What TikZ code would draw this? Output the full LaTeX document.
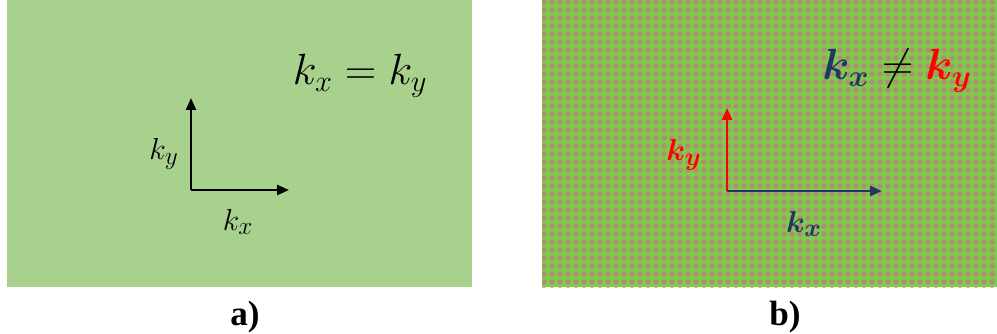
\documentclass[tikz,border=0pt]{standalone}
\usepackage{fontspec}
\usepackage{bm}
\newfontfamily\tagfont{Liberation Serif}
\usetikzlibrary{arrows.meta}
\definecolor{pgreen}{HTML}{A9D18E}
\definecolor{mgreen}{HTML}{7ECD4A}
\definecolor{mbrown}{HTML}{AE8F72}
\definecolor{kblue}{HTML}{1F3864}
\definecolor{kred}{HTML}{FF0000}
\tikzset{
  every picture/.style={x=0.02cm, y=-0.02cm},
  axis/.style={-{Triangle[length=2.4mm, width=2mm]}, draw=#1, line width=1.4pt},
  axis/.default=black,
  eqn/.style={font=\fontsize{23}{27}\selectfont, inner sep=0pt},
  klabel/.style={font=\fontsize{19}{22}\selectfont, inner sep=0pt},
  tag/.style={font=\tagfont\bfseries\fontsize{20}{23}\selectfont, inner sep=0pt},
}

\begin{document}
\begin{tikzpicture}
  \useasboundingbox (0,0) rectangle (997,334);
  % a) plain medium
  \fill[pgreen] (7,0) rectangle (472,287);
  \node[eqn] (eqa) at (360,76) {$k_x = k_y$};
  \coordinate (oa) at (191,190);
  \coordinate (ya) at (191,98);
  \coordinate (xa) at (289,190);
  \draw[axis] (oa) -- (ya);
  \draw[axis] (oa) -- (xa);
  \node[klabel] (kya) at (164,154) {$k_y$};
  \node[klabel] (kxa) at (238,222) {$k_x$};
  \node[tag] (taga) at (245,317) {a)};
  % b) patterned medium
  \begin{scope}
    \clip (542,0) rectangle (997,287);
    \fill[mgreen] (542,0) rectangle (997,287);
    \foreach \i in {0,...,57}
      \foreach \j in {0,...,36}
        \fill[mbrown] (544+\i*8,2+\j*8) circle[radius=0.058cm];
  \end{scope}
  \node[eqn] (eqb) at (897,71) {${\color{kblue}\bm{k_x}} \ne {\color{kred}\bm{k_y}}$};
  \coordinate (ob) at (727,191);
  \coordinate (yb) at (727,108);
  \coordinate (xb) at (882,191);
  \draw[axis=kred] (ob) -- (yb);
  \draw[axis=kblue] (ob) -- (xb);
  \node[klabel, text=kred] (kyb) at (684,155) {$\bm{k_y}$};
  \node[klabel, text=kblue] (kxb) at (804,224) {$\bm{k_x}$};
  \node[tag] (tagb) at (785,317) {b)};
\end{tikzpicture}
\end{document}
